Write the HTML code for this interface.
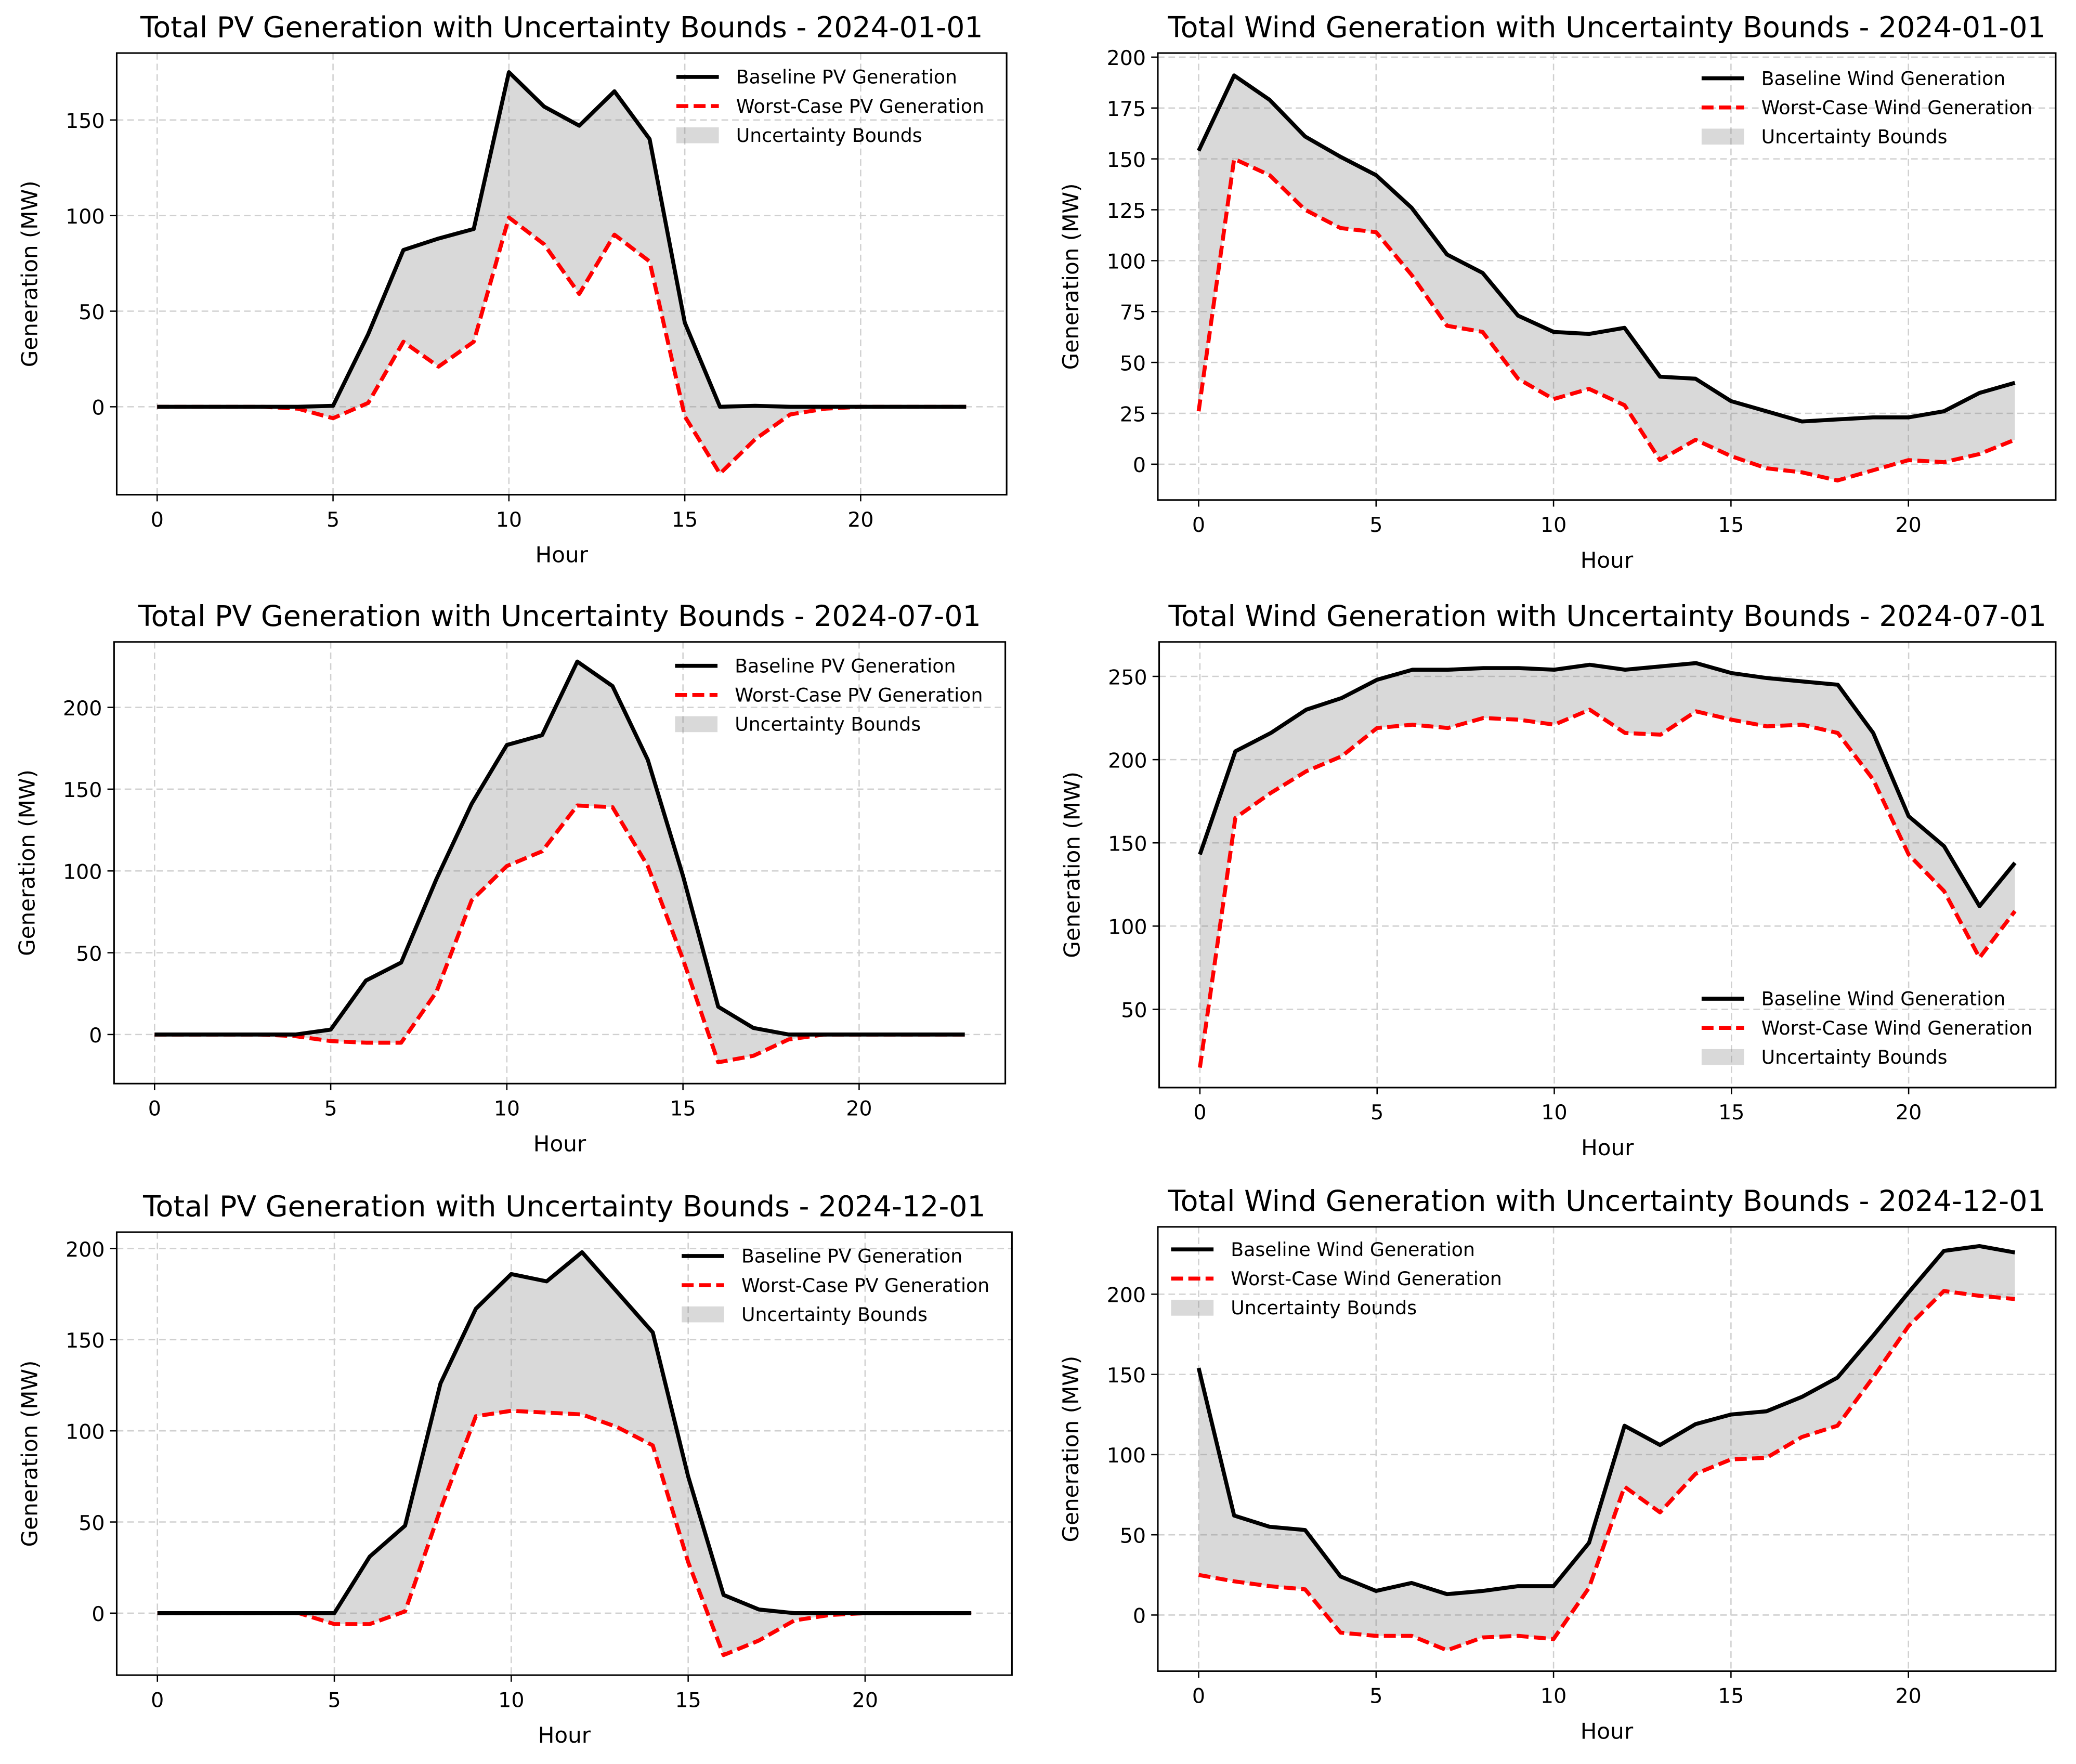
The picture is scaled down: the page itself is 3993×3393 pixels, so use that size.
<!DOCTYPE html>
<html><head><meta charset="utf-8">
<style>
html,body{margin:0;padding:0;background:#fff;}
svg{display:block;}
text{font-family:"DejaVu Sans","Liberation Sans",sans-serif;fill:#000;}
</style></head>
<body>
<svg id="fig" width="3993" height="3393" viewBox="0 0 1565.3 1330" preserveAspectRatio="none" xmlns="http://www.w3.org/2000/svg"></svg>
<script>
const hours = [0,1,2,3,4,5,6,7,8,9,10,11,12,13,14,15,16,17,18,19,20,21,22,23];
const pvJanBase = [0,0,0,0,0,0.5,38,82,88,93,175,157,147,165,140,44,0,0.5,0,0,0,0,0,0];
const pvJanWorst = [0,0,0,0,-1,-6,2,34,21,34,99,85,59,90,76,-5,-35,-17,-4,-1,0,0,0,0];
const windJanBase = [154,191,179,161,151,142,126,103,94,73,65,64,67,43,42,31,26,21,22,23,23,26,35,40];
const windJanWorst = [26,150,142,125,116,114,93,68,65,42,32,37,29,2,12,4,-2,-4,-8,-3,2,1,5,12];
const pvJulBase = [0,0,0,0,0,3,33,44,95,141,177,183,228,213,168,97,17,4,0,0,0,0,0,0];
const pvJulWorst = [0,0,0,0,-1,-4,-5,-5,26,82,103,112,140,139,103,46,-17,-13,-3,0,0,0,0,0];
const windJulBase = [143,205,216,230,237,248,254,254,255,255,254,257,254,256,258,252,249,247,245,216,166,148,112,138];
const windJulWorst = [15,165,180,193,202,219,221,219,225,224,221,230,216,215,229,224,220,221,216,188,143,121,81,109];
const pvDecBase = [0,0,0,0,0,0,31,48,126,167,186,182,198,176,154,75,10,2,0,0,0,0,0,0];
const pvDecWorst = [0,0,0,0,0,-6,-6,1,57,108,111,110,109,102,92,28,-23,-15,-4,-1,0,0,0,0];
const windDecBase = [154,62,55,53,24,15,20,13,15,18,18,45,118,106,119,125,127,136,148,174,201,227,230,226];
const windDecWorst = [25,21,18,16,-11,-13,-13,-22,-14,-13,-15,17,80,64,88,97,98,111,118,148,180,202,199,197];
const xTicks = [0,5,10,15,20];
const pvTicks1 = [0,50,100,150];
const windTicks1 = [0,25,50,75,100,125,150,175,200];
const pvTicks2 = [0,50,100,150,200];
const windTicks2 = [50,100,150,200,250];
const windTicks3 = [0,50,100,150,200];

const NS="http://www.w3.org/2000/svg";
const fig=document.getElementById('fig');
function mk(tag,attrs,parent){const e=document.createElementNS(NS,tag);for(const k in attrs)e.setAttribute(k,attrs[k]);(parent||fig).appendChild(e);return e;}

const panels=[
 {name:'pv-jan',title:'Total PV Generation with Uncertainty Bounds - 2024-01-01',L:88,R:759,T:40,B:373,y0:-46,y1:185,base:pvJanBase,worst:pvJanWorst,ticks:pvTicks1,kind:'PV',leg:[510,58]},
 {name:'wind-jan',title:'Total Wind Generation with Uncertainty Bounds - 2024-01-01',L:873,R:1550,T:40,B:377,y0:-17.6,y1:202,base:windJanBase,worst:windJanWorst,ticks:windTicks1,kind:'Wind',leg:[1283,59]},
 {name:'pv-jul',title:'Total PV Generation with Uncertainty Bounds - 2024-07-01',L:86,R:758,T:484,B:817,y0:-30,y1:240,base:pvJulBase,worst:pvJulWorst,ticks:pvTicks2,kind:'PV',leg:[509,502]},
 {name:'wind-jul',title:'Total Wind Generation with Uncertainty Bounds - 2024-07-01',L:874,R:1550,T:484,B:820,y0:3,y1:270.7,base:windJulBase,worst:windJulWorst,ticks:windTicks2,kind:'Wind',leg:[1283,753]},
 {name:'pv-dec',title:'Total PV Generation with Uncertainty Bounds - 2024-12-01',L:88,R:763,T:929,B:1263,y0:-34,y1:209,base:pvDecBase,worst:pvDecWorst,ticks:pvTicks2,kind:'PV',leg:[514,947]},
 {name:'wind-dec',title:'Total Wind Generation with Uncertainty Bounds - 2024-12-01',L:873,R:1550,T:925,B:1260,y0:-35,y1:242,base:windDecBase,worst:windDecWorst,ticks:windTicks3,kind:'Wind',leg:[883,942]}
];

panels.forEach(p=>{
 const g=mk('g',{});
 
 
 const xs=h=>p.L+(h+1.15)/25.3*(p.R-p.L);
 const ys=v=>p.B-(v-p.y0)/(p.y1-p.y0)*(p.B-p.T);
 xTicks.forEach(t=>{const l=mk('line',{x1:xs(t),x2:xs(t),y1:p.T,y2:p.B,stroke:'#d0d0d0','stroke-width':1,'stroke-dasharray':'5,3'},g);
  });
 p.ticks.forEach(t=>{const l=mk('line',{x1:p.L,x2:p.R,y1:ys(t),y2:ys(t),stroke:'#d0d0d0','stroke-width':1,'stroke-dasharray':'5,3'},g);
  });
 let d='M'+hours.map((h,i)=>xs(h)+','+ys(p.base[i])).join('L');
 for(let i=hours.length-1;i>=0;i--)d+='L'+xs(hours[i])+','+ys(p.worst[i]);
 const f=mk('path',{d:d+'Z',fill:'#808080','fill-opacity':0.3,stroke:'none'},g);
 
 const wl=mk('polyline',{points:hours.map((h,i)=>xs(h)+','+ys(p.worst[i])).join(' '),fill:'none',stroke:'#ff0000','stroke-width':3,'stroke-dasharray':'9,4','stroke-linejoin':'round'},g);
 
 const bl=mk('polyline',{points:hours.map((h,i)=>xs(h)+','+ys(p.base[i])).join(' '),fill:'none',stroke:'#000','stroke-width':3,'stroke-linejoin':'round'},g);
 
 const fr=mk('rect',{x:p.L,y:p.T,width:p.R-p.L,height:p.B-p.T,fill:'none',stroke:'#000','stroke-width':1.2},g);
 
 xTicks.forEach(t=>{mk('line',{x1:xs(t),x2:xs(t),y1:p.B,y2:p.B+5,stroke:'#000','stroke-width':1},g);
  const tx=mk('text',{x:xs(t),y:p.B+24,'text-anchor':'middle','font-size':15.5},g);tx.textContent=t;
  });
 p.ticks.forEach(t=>{mk('line',{x1:p.L-5,x2:p.L,y1:ys(t),y2:ys(t),stroke:'#000','stroke-width':1},g);
  const tx=mk('text',{x:p.L-9,y:ys(t)+6,'text-anchor':'end','font-size':15.5},g);tx.textContent=t;
  });
 const xt=mk('text',{x:(p.L+p.R)/2,y:p.B+51,'text-anchor':'middle','font-size':16.5},g);xt.textContent='Hour';
 
 const yx=p.L-60, yy=(p.T+p.B)/2;
 const yt=mk('text',{x:yx,y:yy,'text-anchor':'middle','font-size':16.5,transform:'rotate(-90 '+yx+' '+yy+')'},g);yt.textContent='Generation (MW)';
 
 const ti=mk('text',{x:(p.L+p.R)/2,y:p.T-12,'text-anchor':'middle','font-size':21.7},g);ti.textContent=p.title;
 
 const [lx,ly]=p.leg;
 const lg=mk('g',{},g);
 const labels=['Baseline '+p.kind+' Generation','Worst-Case '+p.kind+' Generation','Uncertainty Bounds'];
 labels.forEach((lab,i)=>{
  const y=ly+i*22;
  if(i===0)mk('line',{x1:lx,x2:lx+32,y1:y,y2:y,stroke:'#000','stroke-width':3},lg);
  else if(i===1)mk('line',{x1:lx,x2:lx+32,y1:y,y2:y,stroke:'#ff0000','stroke-width':3,'stroke-dasharray':'9,4'},lg);
  else mk('rect',{x:lx,y:y-6,width:32,height:12,fill:'#808080','fill-opacity':0.3},lg);
  const t=mk('text',{x:lx+45,y:y+5,'font-size':14.2},lg);t.textContent=lab;
  
 });
});
</script>
</body></html>
